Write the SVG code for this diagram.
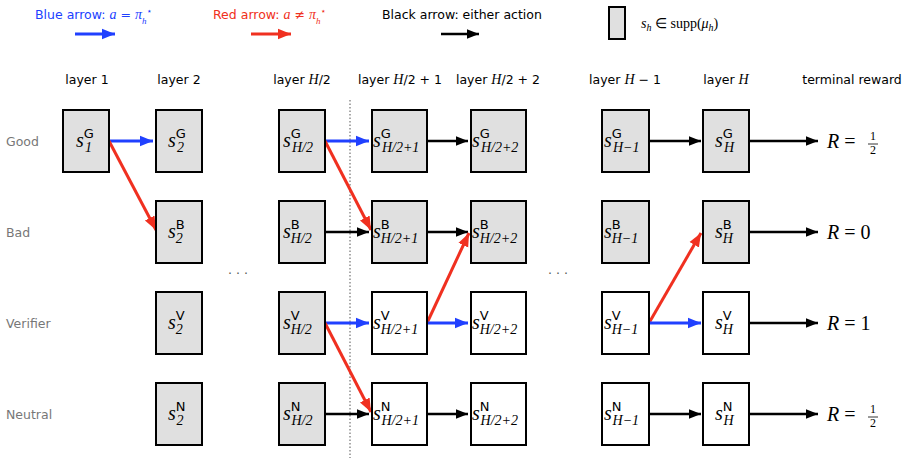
<svg xmlns="http://www.w3.org/2000/svg" width="906" height="462" viewBox="0 0 906 462">
<style>
.g{fill:#e0e0e0;stroke:#000;stroke-width:2}
.w{fill:#fff;stroke:#000;stroke-width:2}
.s{font-family:"Liberation Serif",serif;font-style:italic;font-size:20px}
.sub{font-family:"Liberation Serif",serif;font-style:italic;font-size:14px}
.sup{font-family:"DejaVu Sans",sans-serif;font-style:normal;font-size:13px}
.lbl{font-family:"DejaVu Sans",sans-serif;font-size:12.5px}
.row{font-family:"DejaVu Sans",sans-serif;font-size:12.5px;fill:#777}
.m{font-family:"Liberation Serif",serif;font-style:italic}
.k{stroke:#000;stroke-width:2.5;fill:none;marker-end:url(#ak)}
.b{stroke:#2040ff;stroke-width:3;fill:none;marker-end:url(#ab)}
.r{stroke:#f03020;stroke-width:3;fill:none;marker-end:url(#ar)}
.R{font-family:"Liberation Serif",serif;font-size:20px}
</style>
<defs>
<marker id="ak" viewBox="0 0 10 10" refX="10" refY="5" markerWidth="5" markerHeight="5" markerUnits="strokeWidth" orient="auto"><path d="M0,1 L10,5 L0,9 z" fill="#000"/></marker>
<marker id="ab" viewBox="0 0 10 10" refX="10" refY="5" markerWidth="4.5" markerHeight="4.5" markerUnits="strokeWidth" orient="auto"><path d="M0,1 L10,5 L0,9 z" fill="#2040ff"/></marker>
<marker id="ar" viewBox="0 0 10 10" refX="10" refY="5" markerWidth="4.5" markerHeight="4.5" markerUnits="strokeWidth" orient="auto"><path d="M0,1 L10,5 L0,9 z" fill="#f03020"/></marker>
</defs>
<g id="legend">
<text x="35" y="19" class="lbl" fill="#2040ff">Blue arrow: <tspan class="m" font-size="14">a</tspan> = <tspan class="m" font-size="14">π</tspan><tspan class="m" font-size="9" dy="5">h</tspan><tspan font-size="9" dy="-10">⋆</tspan></text>
<text x="213" y="19" class="lbl" fill="#f03020">Red arrow: <tspan class="m" font-size="14">a</tspan> ≠ <tspan class="m" font-size="14">π</tspan><tspan class="m" font-size="9" dy="5">h</tspan><tspan font-size="9" dy="-10">⋆</tspan></text>
<text x="382" y="19" class="lbl">Black arrow: either action</text>
<path d="M75,34 H115" class="b"/>
<path d="M251,34 H291" class="r"/>
<path d="M441,34 H479" class="k"/>
<rect x="609" y="7" width="16" height="32" class="g"/>
<text x="641" y="28" class="m" font-size="14">s<tspan font-size="10" dy="3">h</tspan><tspan dy="-3" font-style="normal"> ∈ supp(</tspan>μ<tspan font-size="10" dy="3">h</tspan><tspan dy="-3" font-style="normal">)</tspan></text>
</g>
<g id="headers" class="lbl">
<text x="87" y="84" text-anchor="middle">layer 1</text>
<text x="179" y="84" text-anchor="middle">layer 2</text>
<text x="302" y="84" text-anchor="middle">layer <tspan class="m" font-size="14">H</tspan>/2</text>
<text x="400" y="84" text-anchor="middle">layer <tspan class="m" font-size="14">H</tspan>/2 + 1</text>
<text x="498" y="84" text-anchor="middle">layer <tspan class="m" font-size="14">H</tspan>/2 + 2</text>
<text x="625" y="84" text-anchor="middle">layer <tspan class="m" font-size="14">H</tspan> − 1</text>
<text x="726" y="84" text-anchor="middle">layer <tspan class="m" font-size="14">H</tspan></text>
<text x="852" y="84" text-anchor="middle">terminal reward</text>
</g>
<g id="rows" class="row">
<text x="6" y="146">Good</text><text x="6" y="237">Bad</text><text x="6" y="328">Verifier</text><text x="6" y="419">Neutral</text>
</g>
<line x1="350" y1="100" x2="350" y2="458" stroke="#555" stroke-width="1" stroke-dasharray="1.5,2"/>
<text x="238" y="278" class="lbl" text-anchor="middle" fill="#555">· · ·</text>
<text x="558" y="278" class="lbl" text-anchor="middle" fill="#555">· · ·</text>
<g id="connectors">
<path d="M109,141 H153" class="b"/>
<path d="M109,141 L156,230" class="r"/>
<path d="M325,141 H369" class="b"/>
<path d="M325,141 L371,230" class="r"/>
<path d="M427,141 H468" class="k"/>
<path d="M325,232 H369" class="k"/>
<path d="M427,232 H468" class="k"/>
<path d="M325,323 H369" class="b"/>
<path d="M325,323 L371,412" class="r"/>
<path d="M427,323 L469,233" class="r"/>
<path d="M427,323 H468" class="b"/>
<path d="M325,414 H369" class="k"/>
<path d="M427,414 H468" class="k"/>
<path d="M649,141 H701" class="k"/>
<path d="M649,323 L701,233" class="r"/>
<path d="M649,323 H701" class="b"/>
<path d="M649,414 H701" class="k"/>
<path d="M749,141 H818" class="k"/>
<path d="M749,232 H818" class="k"/>
<path d="M749,323 H818" class="k"/>
<path d="M749,414 H818" class="k"/>
</g>
<g id="n1G"><rect x="63" y="110" width="46" height="62" class="g"/><text x="76" y="147" class="s">s<tspan class="sup" dy="-9">G</tspan><tspan class="sub" dx="-9" dy="14">1</tspan></text></g>
<g id="n2G"><rect x="156" y="110" width="46" height="62" class="g"/><text x="168" y="147" class="s">s<tspan class="sup" dy="-9">G</tspan><tspan class="sub" dx="-9" dy="14">2</tspan></text></g>
<g id="n2B"><rect x="156" y="201" width="46" height="62" class="g"/><text x="168" y="238" class="s">s<tspan class="sup" dy="-9">B</tspan><tspan class="sub" dx="-9" dy="14">2</tspan></text></g>
<g id="n2V"><rect x="156" y="292" width="46" height="62" class="g"/><text x="168" y="329" class="s">s<tspan class="sup" dy="-9">V</tspan><tspan class="sub" dx="-9" dy="14">2</tspan></text></g>
<g id="n2N"><rect x="156" y="383" width="46" height="62" class="g"/><text x="168" y="420" class="s">s<tspan class="sup" dy="-9">N</tspan><tspan class="sub" dx="-9" dy="14">2</tspan></text></g>
<g id="nhG"><rect x="279" y="110" width="46" height="62" class="g"/><text x="283" y="147" class="s">s<tspan class="sup" dy="-9">G</tspan><tspan class="sub" dx="-9" dy="14">H/2</tspan></text></g>
<g id="nhB"><rect x="279" y="201" width="46" height="62" class="g"/><text x="283" y="238" class="s">s<tspan class="sup" dy="-9">B</tspan><tspan class="sub" dx="-9" dy="14">H/2</tspan></text></g>
<g id="nhV"><rect x="279" y="292" width="46" height="62" class="g"/><text x="283" y="329" class="s">s<tspan class="sup" dy="-9">V</tspan><tspan class="sub" dx="-9" dy="14">H/2</tspan></text></g>
<g id="nhN"><rect x="279" y="383" width="46" height="62" class="g"/><text x="283" y="420" class="s">s<tspan class="sup" dy="-9">N</tspan><tspan class="sub" dx="-9" dy="14">H/2</tspan></text></g>
<g id="n1G1"><rect x="372" y="110" width="55" height="62" class="g"/><text x="373" y="147" class="s">s<tspan class="sup" dy="-9">G</tspan><tspan class="sub" dx="-9" dy="14">H/2+1</tspan></text></g>
<g id="n1B1"><rect x="372" y="201" width="55" height="62" class="g"/><text x="373" y="238" class="s">s<tspan class="sup" dy="-9">B</tspan><tspan class="sub" dx="-9" dy="14">H/2+1</tspan></text></g>
<g id="n1V1"><rect x="372" y="292" width="55" height="62" class="w"/><text x="373" y="329" class="s">s<tspan class="sup" dy="-9">V</tspan><tspan class="sub" dx="-9" dy="14">H/2+1</tspan></text></g>
<g id="n1N1"><rect x="372" y="383" width="55" height="62" class="w"/><text x="373" y="420" class="s">s<tspan class="sup" dy="-9">N</tspan><tspan class="sub" dx="-9" dy="14">H/2+1</tspan></text></g>
<g id="n2G2"><rect x="471" y="110" width="55" height="62" class="g"/><text x="472" y="147" class="s">s<tspan class="sup" dy="-9">G</tspan><tspan class="sub" dx="-9" dy="14">H/2+2</tspan></text></g>
<g id="n2B2"><rect x="471" y="201" width="55" height="62" class="g"/><text x="472" y="238" class="s">s<tspan class="sup" dy="-9">B</tspan><tspan class="sub" dx="-9" dy="14">H/2+2</tspan></text></g>
<g id="n2V2"><rect x="471" y="292" width="55" height="62" class="w"/><text x="472" y="329" class="s">s<tspan class="sup" dy="-9">V</tspan><tspan class="sub" dx="-9" dy="14">H/2+2</tspan></text></g>
<g id="n2N2"><rect x="471" y="383" width="55" height="62" class="w"/><text x="472" y="420" class="s">s<tspan class="sup" dy="-9">N</tspan><tspan class="sub" dx="-9" dy="14">H/2+2</tspan></text></g>
<g id="nm1G"><rect x="602" y="110" width="47" height="62" class="g"/><text x="604" y="147" class="s">s<tspan class="sup" dy="-9">G</tspan><tspan class="sub" dx="-9" dy="14">H−1</tspan></text></g>
<g id="nm1B"><rect x="602" y="201" width="47" height="62" class="g"/><text x="604" y="238" class="s">s<tspan class="sup" dy="-9">B</tspan><tspan class="sub" dx="-9" dy="14">H−1</tspan></text></g>
<g id="nm1V"><rect x="602" y="292" width="47" height="62" class="w"/><text x="604" y="329" class="s">s<tspan class="sup" dy="-9">V</tspan><tspan class="sub" dx="-9" dy="14">H−1</tspan></text></g>
<g id="nm1N"><rect x="602" y="383" width="47" height="62" class="w"/><text x="604" y="420" class="s">s<tspan class="sup" dy="-9">N</tspan><tspan class="sub" dx="-9" dy="14">H−1</tspan></text></g>
<g id="nHG"><rect x="703" y="110" width="46" height="62" class="g"/><text x="715" y="147" class="s">s<tspan class="sup" dy="-9">G</tspan><tspan class="sub" dx="-9" dy="14">H</tspan></text></g>
<g id="nHB"><rect x="703" y="201" width="46" height="62" class="g"/><text x="715" y="238" class="s">s<tspan class="sup" dy="-9">B</tspan><tspan class="sub" dx="-9" dy="14">H</tspan></text></g>
<g id="nHV"><rect x="703" y="292" width="46" height="62" class="w"/><text x="715" y="329" class="s">s<tspan class="sup" dy="-9">V</tspan><tspan class="sub" dx="-9" dy="14">H</tspan></text></g>
<g id="nHN"><rect x="703" y="383" width="46" height="62" class="w"/><text x="715" y="420" class="s">s<tspan class="sup" dy="-9">N</tspan><tspan class="sub" dx="-9" dy="14">H</tspan></text></g>
<g id="rewards" class="R">
<text x="827" y="148"><tspan font-style="italic">R</tspan> =</text><text x="873" y="140" font-size="12" text-anchor="middle">1</text><line x1="868" y1="144" x2="878" y2="144" stroke="#000" stroke-width="0.8"/><text x="873" y="154" font-size="12" text-anchor="middle">2</text>
<text x="827" y="239"><tspan font-style="italic">R</tspan> = 0</text>
<text x="827" y="330"><tspan font-style="italic">R</tspan> = 1</text>
<text x="827" y="421"><tspan font-style="italic">R</tspan> =</text><text x="873" y="413" font-size="12" text-anchor="middle">1</text><line x1="868" y1="417" x2="878" y2="417" stroke="#000" stroke-width="0.8"/><text x="873" y="427" font-size="12" text-anchor="middle">2</text>
</g>
</svg>
